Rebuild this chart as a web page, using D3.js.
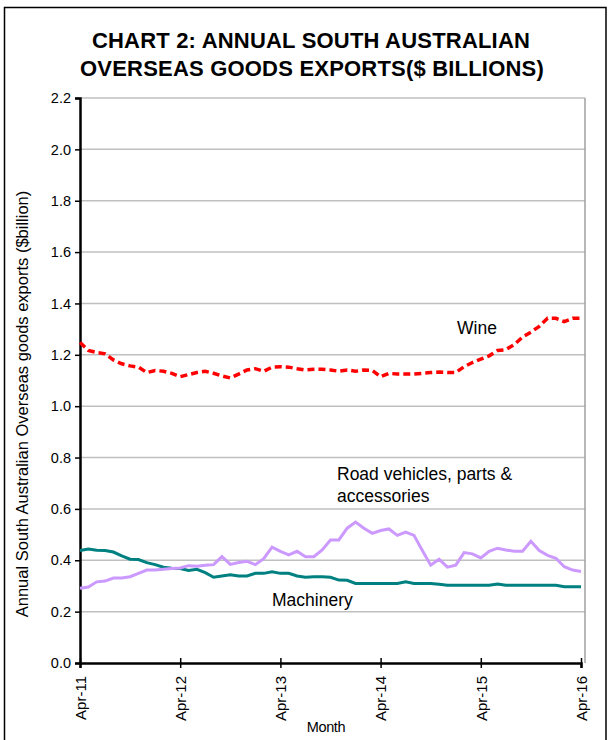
<!DOCTYPE html>
<html><head><meta charset="utf-8">
<script src="https://cdn.jsdelivr.net/npm/d3@7"></script>
<style>body{margin:0;background:#fff}svg{display:block;font-family:"Liberation Sans",Arial,sans-serif}</style>
</head><body>
<svg id="c" width="610" height="740"></svg>
<script>
const tickLabels = ["Apr-11","Apr-12","Apr-13","Apr-14","Apr-15","Apr-16"];
const yTicks = [0,0.2,0.4,0.6,0.8,1.0,1.2,1.4,1.6,1.8,2.0,2.2];
const wine = [1.248,1.217,1.209,1.204,1.18,1.165,1.157,1.152,1.131,1.139,1.136,1.128,1.115,1.123,1.131,1.136,1.128,1.118,1.110,1.125,1.141,1.146,1.136,1.152,1.154,1.152,1.146,1.141,1.144,1.144,1.141,1.136,1.141,1.136,1.141,1.139,1.115,1.128,1.125,1.125,1.125,1.128,1.131,1.133,1.131,1.131,1.154,1.17,1.183,1.196,1.217,1.22,1.24,1.269,1.288,1.311,1.342,1.342,1.329,1.342,1.342];
const road = [0.291,0.296,0.316,0.319,0.331,0.331,0.336,0.349,0.362,0.362,0.365,0.368,0.370,0.379,0.377,0.381,0.383,0.414,0.384,0.391,0.396,0.383,0.406,0.451,0.435,0.421,0.435,0.414,0.414,0.44,0.479,0.479,0.525,0.549,0.525,0.505,0.516,0.522,0.497,0.510,0.497,0.438,0.381,0.404,0.373,0.381,0.430,0.425,0.409,0.435,0.447,0.440,0.435,0.435,0.474,0.438,0.419,0.408,0.375,0.362,0.356];
const machinery = [0.438,0.444,0.439,0.438,0.432,0.417,0.404,0.403,0.391,0.383,0.373,0.369,0.368,0.36,0.365,0.352,0.334,0.339,0.344,0.339,0.339,0.349,0.349,0.355,0.349,0.349,0.339,0.334,0.336,0.336,0.334,0.323,0.322,0.310,0.310,0.310,0.310,0.310,0.310,0.316,0.310,0.310,0.310,0.307,0.303,0.303,0.303,0.303,0.303,0.303,0.308,0.303,0.303,0.303,0.303,0.303,0.303,0.303,0.297,0.297,0.297];

const svg = d3.select("#c");
const L = 80, R = 585, T = 98, B = 663;
const x = d3.scaleLinear().domain([0, 60]).range([L, 581]);
const y = d3.scaleLinear().domain([0, 2.2]).range([B, T]);

// outer frame
svg.append("rect").attr("x",4.5).attr("y",7.5).attr("width",601.5).attr("height",740).attr("fill","none").attr("stroke","#000").attr("stroke-width",1.5);

// title
const title = svg.append("text").attr("text-anchor","middle").attr("font-weight","bold").attr("font-size",22).attr("fill","#000");
title.append("tspan").attr("x",311).attr("y",48).attr("letter-spacing",0.2).text("CHART 2:  ANNUAL  SOUTH AUSTRALIAN");
title.append("tspan").attr("x",312).attr("y",76).attr("letter-spacing",0.2).text("OVERSEAS GOODS EXPORTS($ BILLIONS)");

// gridlines
svg.append("g").selectAll("line").data(yTicks.filter(d=>d>0)).join("line")
  .attr("x1",L).attr("x2",R).attr("y1",d=>y(d)).attr("y2",d=>y(d))
  .attr("stroke","#c0c0c0").attr("stroke-width",1.5);
// right border
svg.append("line").attr("x1",R).attr("x2",R).attr("y1",T).attr("y2",B).attr("stroke","#a0a0a0").attr("stroke-width",1.5);

// y axis
const ya = svg.append("g").attr("transform",`translate(${L},0)`)
  .call(d3.axisLeft(y).tickValues(yTicks).tickFormat(d3.format(".1f")).tickSize(5).tickPadding(4));
ya.select(".domain").attr("stroke","#000").attr("stroke-width",2.5);
ya.selectAll(".tick line").attr("stroke","#000").attr("stroke-width",1.5);
ya.selectAll("text").attr("font-size",14.5).attr("font-family","Liberation Sans, Arial, sans-serif").attr("fill","#000");

// x axis
const xa = svg.append("g").attr("transform",`translate(0,${B})`)
  .call(d3.axisBottom(x).tickValues([0,12,24,36,48,60]).tickFormat((d,i)=>tickLabels[i]).tickSize(5).tickPadding(0));
xa.select(".domain").attr("stroke","#000").attr("stroke-width",2.5);
xa.selectAll(".tick line").attr("stroke","#000").attr("stroke-width",1.5).attr("y1",-5);
xa.selectAll("text").attr("font-size",15).attr("font-family","Liberation Sans, Arial, sans-serif").attr("fill","#000")
  .attr("transform","rotate(-90)").attr("text-anchor","end").attr("dy","0.35em").attr("x",-13).attr("y",0);

// series
const line = d3.line().x((d,i)=>x(i)).y(d=>y(d));
svg.append("path").datum(machinery).attr("d",line).attr("fill","none").attr("stroke","#008080").attr("stroke-width",3);
svg.append("path").datum(road).attr("d",line).attr("fill","none").attr("stroke","#cc99ff").attr("stroke-width",3);
svg.append("path").datum(wine).attr("d",line).attr("fill","none").attr("stroke","#ff0000").attr("stroke-width",3.5).attr("stroke-dasharray","7,4");

// labels
const lab = (t,xx,yy)=>svg.append("text").attr("x",xx).attr("y",yy).attr("font-size",17.5).attr("fill","#000").text(t);
lab("Wine",457,334);
lab("Road vehicles, parts &",337,480);
lab("accessories",337,502);
lab("Machinery",272,606);

// axis titles
svg.append("text").attr("transform","translate(28,404) rotate(-90)").attr("text-anchor","middle").attr("font-size",16.5).attr("fill","#000")
  .text("Annual South Australian Overseas goods exports ($billion)");
svg.append("text").attr("x",326).attr("y",732).attr("text-anchor","middle").attr("font-size",14.5).attr("letter-spacing",-0.4).attr("fill","#000").text("Month");
</script>
</body></html>
